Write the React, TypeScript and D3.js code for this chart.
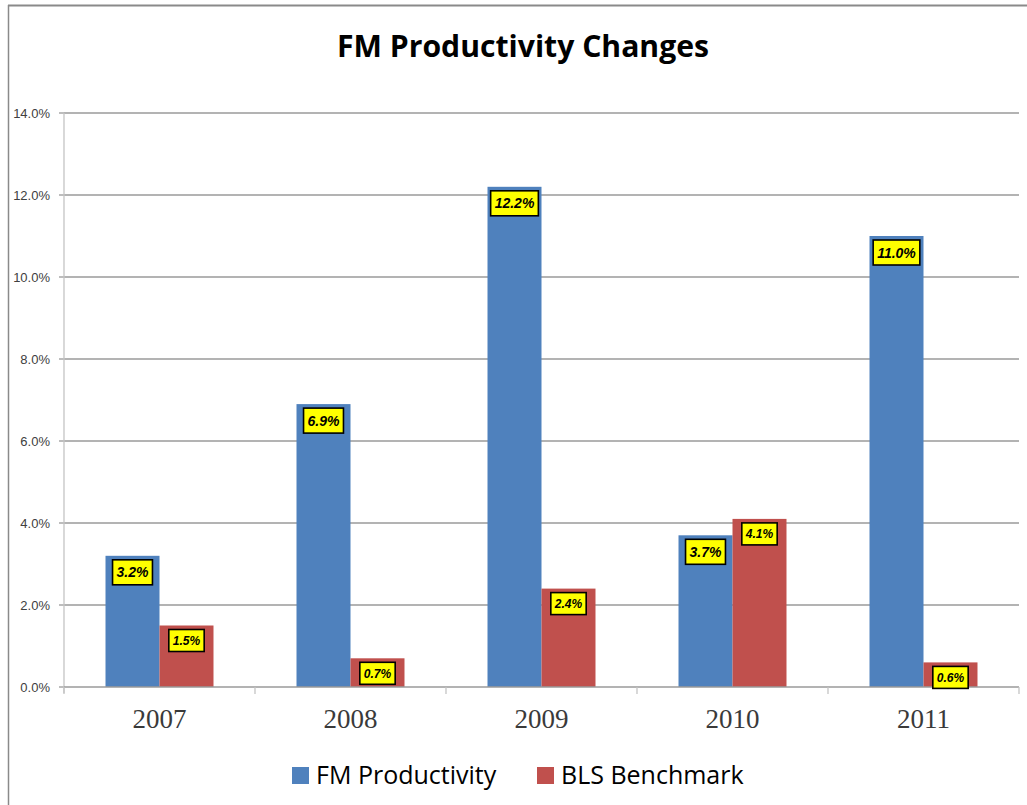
import React, { useEffect, useRef } from "react";
import * as d3 from "d3";

const categories = ["2007", "2008", "2009", "2010", "2011"];
const seriesNames = ["FM Productivity", "BLS Benchmark"];
const fmProductivity = [0.032, 0.069, 0.122, 0.037, 0.110];
const blsBenchmark = [0.015, 0.007, 0.024, 0.041, 0.006];
const yTicks = [0, 0.02, 0.04, 0.06, 0.08, 0.10, 0.12, 0.14];
const colors = ["#4F81BD", "#C0504D"];
const title = "FM Productivity Changes";

export default function App() {
  const ref = useRef<SVGSVGElement>(null);

  useEffect(() => {
    const svg = d3.select(ref.current);
    svg.selectAll("*").remove();
    const W = 1027, H = 805;
    const left = 64, right = 1019, top = 113, bottom = 687;

    // frame
    svg.append("line").attr("x1", 8).attr("x2", W).attr("y1", 5.5).attr("y2", 5.5)
      .attr("stroke", "#8a8a8a").attr("stroke-width", 2);
    svg.append("line").attr("x1", 8.5).attr("x2", 8.5).attr("y1", 5).attr("y2", H)
      .attr("stroke", "#8a8a8a").attr("stroke-width", 1.5);

    // title
    svg.append("text").attr("x", 523).attr("y", 57).attr("text-anchor", "middle")
      .attr("font-family", "'Open Sans', sans-serif").attr("font-weight", "bold")
      .attr("font-size", 31).attr("textLength", 372).attr("lengthAdjust", "spacingAndGlyphs")
      .attr("fill", "#000").text(title);

    const y = d3.scaleLinear().domain([0, 0.14]).range([bottom, top]);
    const x0 = d3.scaleBand<string>().domain(categories).range([left, right]).padding(0);
    const bw = x0.bandwidth();
    const x1 = d3.scaleBand<string>().domain(seriesNames).range([bw * 0.2173, bw * 0.7827]).padding(0);

    // gridlines
    yTicks.forEach((t) => {
      if (t > 0) {
        svg.append("line").attr("x1", left).attr("x2", right).attr("y1", y(t)).attr("y2", y(t))
          .attr("stroke", "#9a9a9a").attr("stroke-width", 1.3);
      }
      svg.append("line").attr("x1", left - 5).attr("x2", left).attr("y1", y(t)).attr("y2", y(t))
        .attr("stroke", "#9a9a9a").attr("stroke-width", 1.3);
      svg.append("text").attr("x", 50).attr("y", y(t)).attr("dy", "0.36em").attr("text-anchor", "end")
        .attr("font-family", "'Liberation Sans', Arial, sans-serif").attr("font-size", 13)
        .attr("fill", "#404040").text(d3.format(".1%")(t));
    });

    // y axis line
    svg.append("line").attr("x1", left).attr("x2", left).attr("y1", top).attr("y2", bottom + 6)
      .attr("stroke", "#c4c4c4").attr("stroke-width", 1.3);

    // bars
    const data = categories.map((c, i) => ({ c, vals: [fmProductivity[i], blsBenchmark[i]] }));
    data.forEach((d) => {
      d.vals.forEach((v, si) => {
        const bx = (x0(d.c) as number) + (x1(seriesNames[si]) as number);
        svg.append("rect").attr("x", bx).attr("y", y(v)).attr("width", x1.bandwidth())
          .attr("height", bottom - y(v)).attr("fill", colors[si]);
      });
    });

    // baseline
    svg.append("line").attr("x1", left).attr("x2", right).attr("y1", bottom).attr("y2", bottom)
      .attr("stroke", "#9a9a9a").attr("stroke-width", 1.3);
    // category ticks
    [...categories.map((c) => x0(c) as number), right].forEach((tx) => {
      svg.append("line").attr("x1", tx).attr("x2", tx).attr("y1", bottom).attr("y2", bottom + 7)
        .attr("stroke", "#c4c4c4").attr("stroke-width", 1.3);
    });

    // category labels
    categories.forEach((c) => {
      svg.append("text").attr("x", (x0(c) as number) + bw / 2).attr("y", 728).attr("text-anchor", "middle")
        .attr("font-family", "'Liberation Serif', 'Times New Roman', serif").attr("font-size", 27)
        .attr("fill", "#3a3a3a").text(c);
    });

    // data labels
    data.forEach((d) => {
      d.vals.forEach((v, si) => {
        const cx = (x0(d.c) as number) + (x1(seriesNames[si]) as number) + x1.bandwidth() / 2;
        const fs = si === 0 ? 14 : 12;
        const bh = si === 0 ? 25 : 22;
        const g = svg.append("g");
        const rect = g.append("rect");
        const txt = g.append("text").attr("x", cx).attr("y", y(v) + 4 + bh / 2).attr("dy", "0.36em")
          .attr("text-anchor", "middle").attr("font-family", "'Liberation Sans', Arial, sans-serif")
          .attr("font-weight", "bold").attr("font-style", "italic").attr("font-size", fs)
          .attr("fill", "#000").text(d3.format(".1%")(v));
        const tw = (txt.node() as SVGTextElement).getComputedTextLength();
        const rw = tw + 8;
        rect.attr("x", cx - rw / 2).attr("y", y(v) + 4).attr("width", rw).attr("height", bh)
          .attr("fill", "#FFFF00").attr("stroke", "#000").attr("stroke-width", 1.6);
      });
    });

    // legend
    const legend = [
      { name: seriesNames[0], sx: 292, tx: 316 },
      { name: seriesNames[1], sx: 537, tx: 561 },
    ];
    legend.forEach((l, i) => {
      svg.append("rect").attr("x", l.sx).attr("y", 767).attr("width", 17).attr("height", 17).attr("fill", colors[i]);
      svg.append("text").attr("x", l.tx).attr("y", 784)
        .attr("font-family", "'Open Sans', sans-serif").attr("font-size", 25)
        .attr("fill", "#000").text(l.name);
    });
  }, []);

  return (
    <svg ref={ref} width={1027} height={805}
      style={{ position: "absolute", left: 0, top: 0, background: "#fff" }} />
  );
}
